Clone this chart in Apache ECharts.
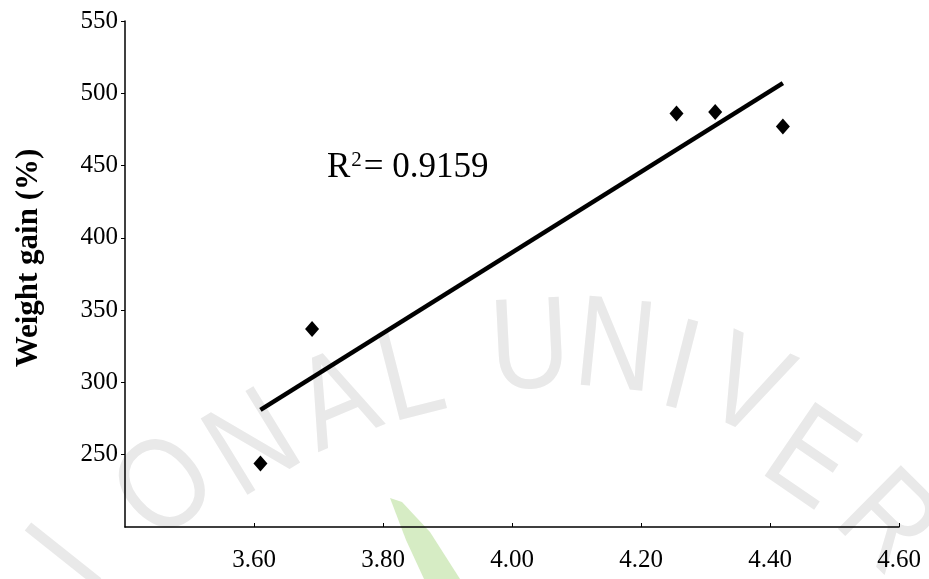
<!DOCTYPE html>
<html>
<head>
<meta charset="utf-8">
<script src="https://cdn.jsdelivr.net/npm/echarts@6/dist/echarts.min.js"></script>
<style>
  html, body { margin: 0; padding: 0; background: #fff; }
  #chart { width: 929px; height: 579px; }
</style>
</head>
<body>
<div id="chart"></div>
<script>
// 数据点
const ratioX = [3.61, 3.69, 4.255, 4.315, 4.42]
const weightGain = [244, 337, 486, 487, 477]
// 趋势线两个端点
const trendX = [3.61, 4.42]
const trendY = [281, 507]
const r2Text = '0.9159'
const yTitle = 'Weight gain (%)'

const serif = '"Liberation Serif", "DejaVu Serif", serif'

// 背景水印字母（装饰用）
const wmLetters = [
  { t: 'I', x: 70, y: 560, r: 0.9 },
  { t: 'O', x: 168, y: 490, r: 0.72 },
  { t: 'N', x: 255, y: 448, r: 0.55 },
  { t: 'A', x: 338, y: 405, r: 0.4 },
  { t: 'L', x: 412, y: 380, r: 0.25 },
  { t: 'U', x: 530, y: 352, r: 0.05 },
  { t: 'N', x: 615, y: 352, r: -0.1 },
  { t: 'I', x: 680, y: 372, r: -0.25 },
  { t: 'V', x: 745, y: 392, r: -0.42 },
  { t: 'E', x: 808, y: 462, r: -0.6 },
  { t: 'R', x: 885, y: 525, r: -0.78 }
]

const chart = echarts.init(document.getElementById('chart'))

const graphics = wmLetters.map(function (l) {
  return {
    type: 'text',
    x: l.x,
    y: l.y,
    rotation: l.r,
    scaleX: 0.85,
    z: -10,
    silent: true,
    style: {
      text: l.t,
      font: '130px "Liberation Sans", sans-serif',
      fill: '#e9e9e9',
      textAlign: 'center',
      textVerticalAlign: 'middle'
    }
  }
})
// 绿色叶子
graphics.push({
  type: 'polygon',
  z: -10,
  silent: true,
  shape: { points: [[390, 498], [402, 502], [430, 532], [460, 579], [424, 579], [406, 540]] },
  style: { fill: '#d6ecc4' }
})
// 纵轴标题
graphics.push({
  type: 'text',
  x: 29,
  y: 258,
  rotation: Math.PI / 2,
  style: {
    text: yTitle,
    font: 'bold 31px "Liberation Serif", serif',
    fill: '#000',
    textAlign: 'center',
    textVerticalAlign: 'middle'
  }
})
// R² 标注
graphics.push({
  type: 'text',
  x: 327,
  y: 168,
  z: 10,
  style: {
    text: '{a|R}{s|2}{a|= ' + r2Text + '}',
    textVerticalAlign: 'middle',
    rich: {
      a: { fontFamily: serif, fontSize: 35, color: '#000' },
      s: { fontFamily: serif, fontSize: 21, color: '#000', verticalAlign: 'top', padding: [0, 2, 15, 1] }
    }
  }
})

chart.setOption({
  animation: false,
  backgroundColor: '#fff',
  grid: { left: 125, right: 30, top: 21, bottom: 52 },
  xAxis: {
    type: 'value',
    min: 3.4,
    max: 4.6,
    interval: 0.2,
    axisLine: { lineStyle: { color: '#000', width: 1.5 } },
    axisTick: { inside: true, length: 4, lineStyle: { color: '#000' } },
    splitLine: { show: false },
    axisLabel: {
      showMinLabel: false,
      margin: 21,
      color: '#000',
      fontFamily: serif,
      fontSize: 25,
      formatter: function (v) { return v.toFixed(2) }
    }
  },
  yAxis: {
    type: 'value',
    min: 200,
    max: 550,
    interval: 50,
    axisLine: { show: true, lineStyle: { color: '#000', width: 1.5 } },
    axisTick: { show: true, length: 4, lineStyle: { color: '#000' } },
    splitLine: { show: false },
    axisLabel: {
      showMinLabel: false,
      margin: 7,
      color: '#000',
      fontFamily: serif,
      fontSize: 25
    }
  },
  series: [
    {
      type: 'line',
      data: trendX.map(function (x, i) { return [x, trendY[i]] }),
      symbol: 'none',
      lineStyle: { color: '#000', width: 4.5 },
      z: 2
    },
    {
      type: 'scatter',
      data: ratioX.map(function (x, i) { return [x, weightGain[i]] }),
      symbol: 'diamond',
      symbolSize: [14, 16],
      itemStyle: { color: '#000', opacity: 1 },
      z: 3
    }
  ],
  graphic: graphics
})
</script>
</body>
</html>
